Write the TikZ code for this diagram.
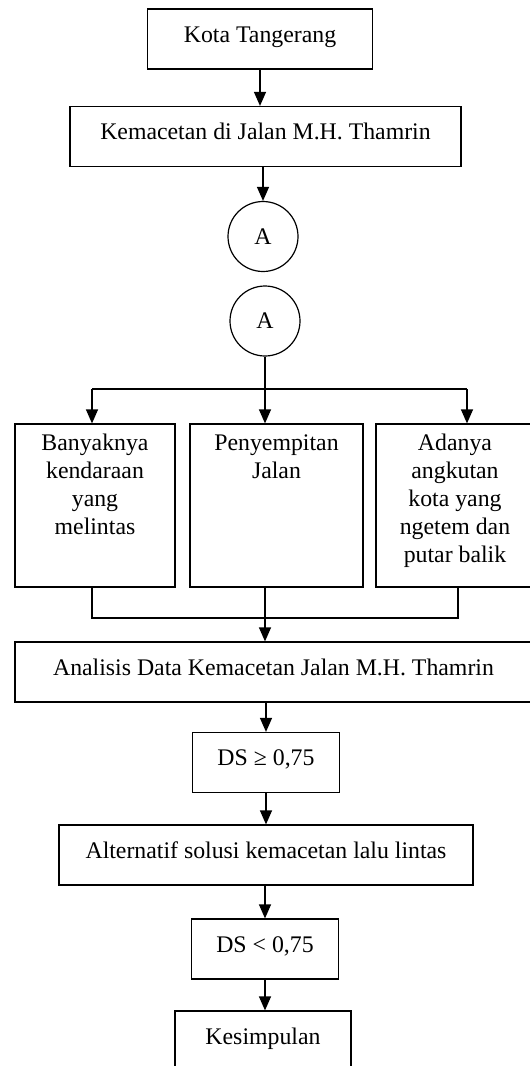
\documentclass[tikz,border=0pt]{standalone}
\usepackage{fontspec}
\setmainfont{Liberation Serif}
\usetikzlibrary{arrows.meta}
\tikzset{
	box/.style={draw,rectangle,line width=0.6pt,inner sep=0pt,align=center,text height=16.5pt,text depth=13.5pt},
	tallbox/.style={draw,rectangle,line width=0.6pt,inner sep=0pt,align=center,text height=13pt,text depth=68.5pt,
		execute at begin node={\spaceskip=\fontdimen2\font\relax}},
	conn/.style={draw,circle,line width=0.6pt,inner sep=0pt,minimum size=35pt},
	arr/.style={line width=0.6pt,-{Triangle[length=7pt,width=6pt]}},
	ln/.style={line width=0.6pt}
}
\begin{document}
\begin{tikzpicture}[x=0.5pt,y=-0.5pt,font=\fontsize{11.9}{14}\selectfont]
	\useasboundingbox (0,0) rectangle (530,1066);
	\clip (0,0) rectangle (530,1066);
	\node[box,minimum width=112.5pt] (kota) at (260,39) {Kota Tangerang};
	\node[box,minimum width=195.5pt] (macet) at (265.5,136.5) {Kemacetan di Jalan M.H. Thamrin};
	\node[conn] (conA1) at (263,236.5) {A};
	\node[conn] (conA2) at (265,321) {A};
	\node[tallbox,text width=80pt] (banyak) at (95,505.5) {Banyaknya\\kendaraan\\yang\\melintas};
	\node[tallbox,text width=86.5pt] (sempit) at (276.5,505.5) {Penyempitan\\Jalan};
	\node[tallbox,text width=79pt] (angkot) at (455,505.5) {Adanya\\angkutan\\kota yang\\ngetem dan\\putar balik};
	\node[box,minimum width=258.5pt] (analisis) at (273.5,672) {Analisis Data Kemacetan Jalan M.H. Thamrin};
	\node[box,minimum width=73.5pt] (ds1) at (266,762.5) {DS ≥ 0,75};
	\node[box,minimum width=207pt] (alt) at (266,855) {Alternatif solusi kemacetan lalu lintas};
	\node[box,minimum width=73.5pt] (ds2) at (265,949) {DS < 0,75};
	\node[box,minimum width=88pt] (simpul) at (263,1041) {Kesimpulan};
	\path
	(265,389) coordinate (split)
	(92,389) coordinate (barL)
	(467,389) coordinate (barR)
	(92,618) coordinate (mergeL)
	(458,618) coordinate (mergeR)
	(265,618) coordinate (join)
	;
	\draw[arr] (kota.south) -- (kota.south |- macet.north);
	\draw[arr] (macet.south -| conA1.north) -- (conA1.north);
	\draw[ln] (conA2) -- (split) (barL) -- (barR);
	\draw[arr] (barL) -- (barL |- banyak.north);
	\draw[arr] (split) -- (split |- sempit.north);
	\draw[arr] (barR) -- (barR |- angkot.north);
	\draw[ln] (mergeL |- banyak.south) -- (mergeL) -- (mergeR) -- (mergeR |- angkot.south);
	\draw[arr] (join |- sempit.south) -- (join |- analisis.north);
	\draw[arr] (analisis.south -| ds1.north) -- (ds1.north);
	\draw[arr] (ds1.south) -- (ds1.south |- alt.north);
	\draw[arr] (alt.south -| ds2.north) -- (ds2.north);
	\draw[arr] (ds2.south) -- (ds2.south |- simpul.north);
\end{tikzpicture}
\end{document}
